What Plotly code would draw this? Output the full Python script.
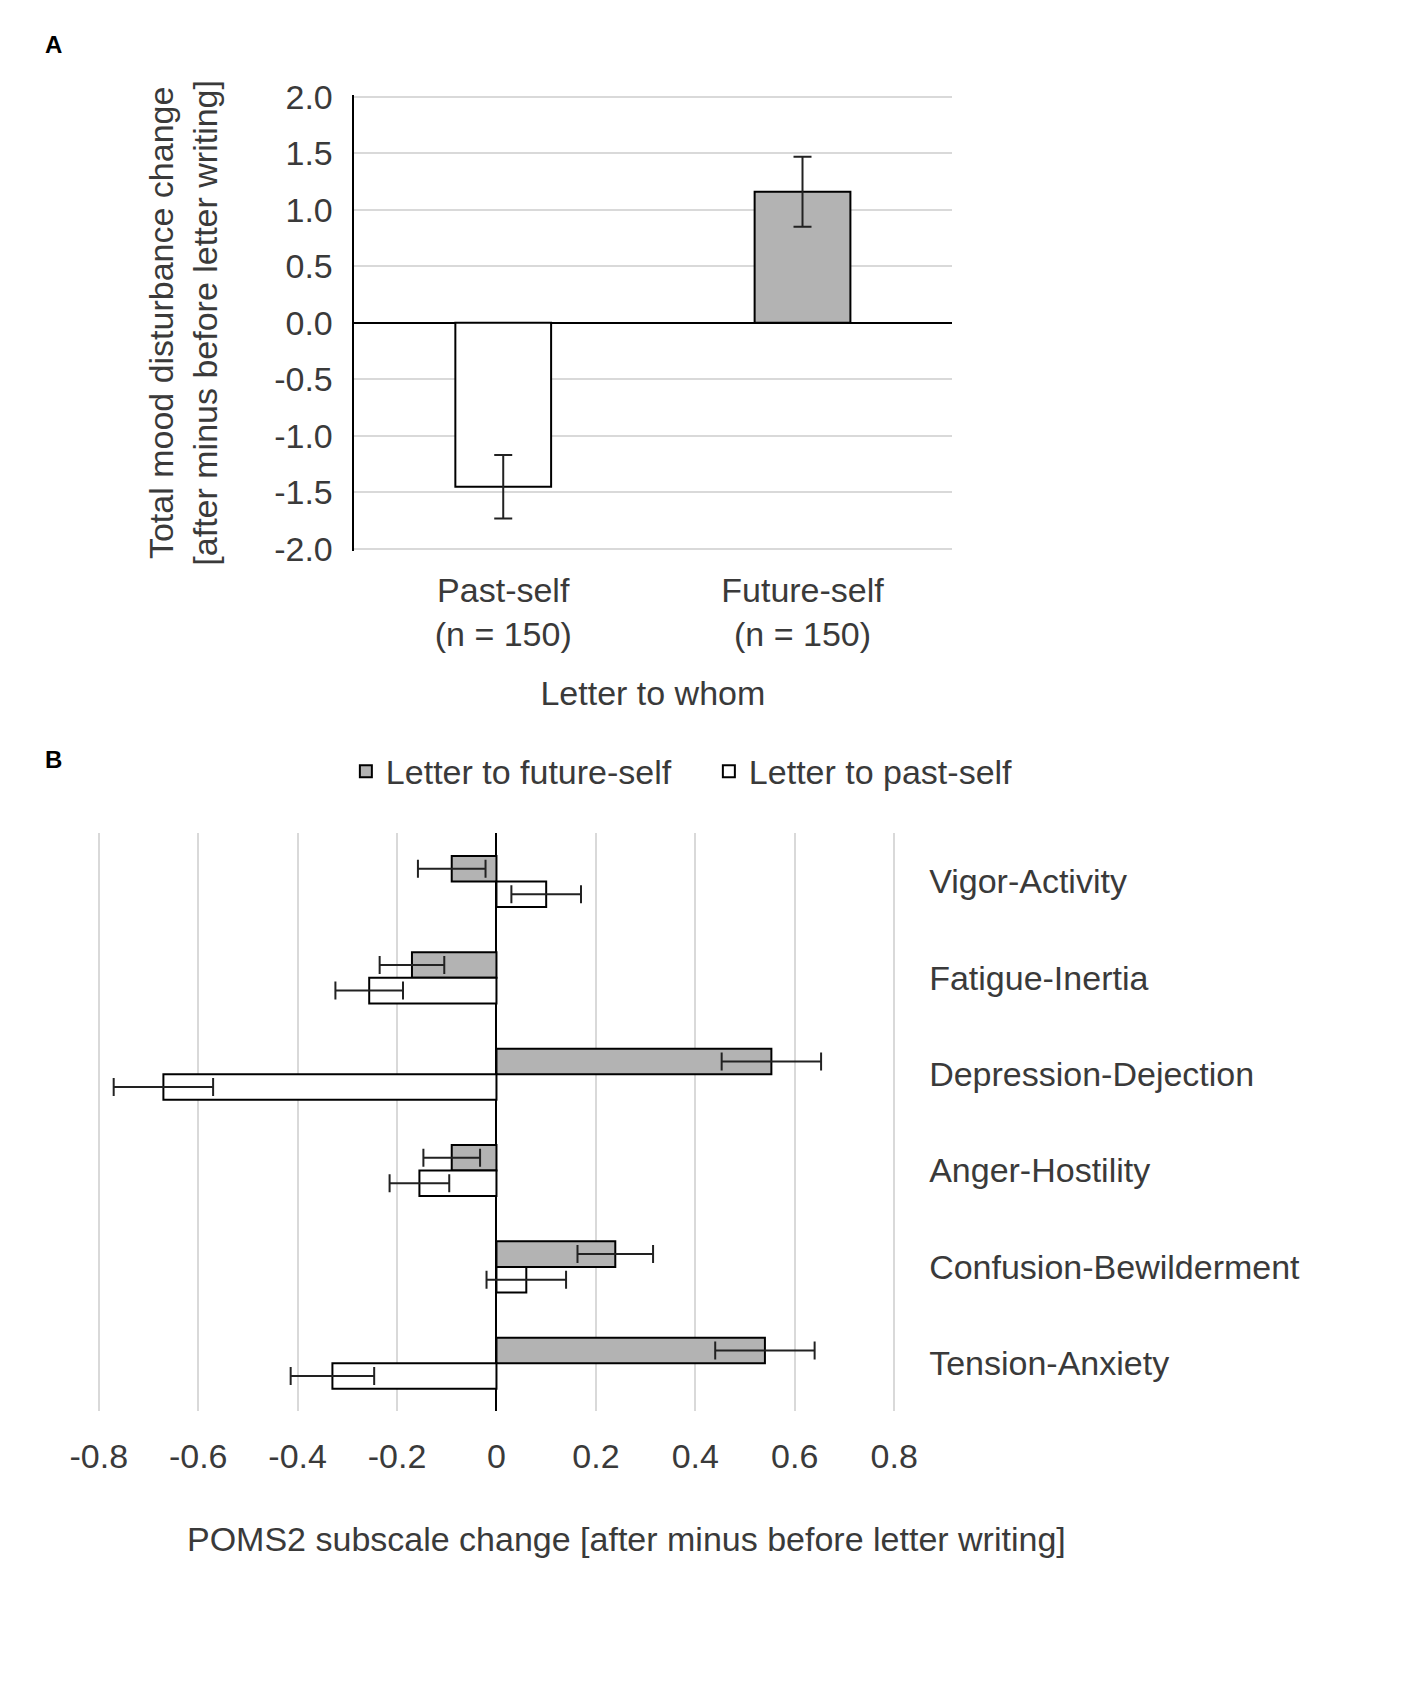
import plotly.graph_objects as go

# Panel A: total mood disturbance change
groups_a = ["Past-self<br>(n = 150)", "Future-self<br>(n = 150)"]
tmd_mean = [-1.45, 1.16]
tmd_se = [0.28, 0.31]
y_ticks_a = [-2.0, -1.5, -1.0, -0.5, 0.0, 0.5, 1.0, 1.5, 2.0]
y_ticktext_a = ["-2.0", "-1.5", "-1.0", "-0.5", "0.0", "0.5", "1.0", "1.5", "2.0"]

# Panel B: POMS2 subscales
subscales = ["Vigor-Activity", "Fatigue-Inertia", "Depression-Dejection",
             "Anger-Hostility", "Confusion-Bewilderment", "Tension-Anxiety"]
future_mean = [-0.09, -0.17, 0.553, -0.09, 0.239, 0.54]
future_se = [0.068, 0.065, 0.10, 0.057, 0.076, 0.10]
past_mean = [0.10, -0.256, -0.67, -0.155, 0.06, -0.33]
past_se = [0.07, 0.068, 0.10, 0.06, 0.08, 0.084]
x_ticks_b = [-0.8, -0.6, -0.4, -0.2, 0, 0.2, 0.4, 0.6, 0.8]
x_ticktext_b = ["-0.8", "-0.6", "-0.4", "-0.2", "0", "0.2", "0.4", "0.6", "0.8"]

W, H = 1417, 1683
FONT = "Liberation Sans, Arial, sans-serif"
TXT = "#3a3a3a"
GRAY = "#b3b3b3"
GRID = "#d9d9d9"
FS = 34


def px_x(p):
    return p / W


def px_y(p):
    return 1 - p / H


fig = go.Figure()

fig.add_trace(go.Bar(
    x=groups_a, y=tmd_mean, width=0.32,
    marker=dict(color=["white", GRAY], line=dict(color="black", width=2)),
    error_y=dict(type="data", array=tmd_se, color="#222", thickness=2, width=9),
    xaxis="x", yaxis="y", showlegend=False,
))

fig.add_trace(go.Bar(
    y=subscales, x=future_mean, orientation="h", name="Letter to future-self",
    marker=dict(color=GRAY, line=dict(color="black", width=2)),
    error_x=dict(type="data", array=future_se, color="#222", thickness=2, width=9),
    xaxis="x2", yaxis="y2",
))
fig.add_trace(go.Bar(
    y=subscales, x=past_mean, orientation="h", name="Letter to past-self",
    marker=dict(color="white", line=dict(color="black", width=2)),
    error_x=dict(type="data", array=past_se, color="#222", thickness=2, width=9),
    xaxis="x2", yaxis="y2",
))

fig.update_layout(
    width=W, height=H,
    margin=dict(l=0, r=0, t=0, b=0),
    paper_bgcolor="white", plot_bgcolor="white",
    font=dict(family=FONT, size=FS, color=TXT),
    barmode="group", bargap=0.47, bargroupgap=0,
    xaxis=dict(
        domain=[px_x(330), px_x(950)], anchor="y",
        showgrid=False, showline=False, ticks="", zeroline=False,
        ticklabelstandoff=16,
        title=dict(text="Letter to whom", standoff=28, font=dict(size=FS, color=TXT)),
    ),
    yaxis=dict(
        domain=[px_y(537), px_y(71)], anchor="x",
        range=[-2.02, 2.02], tickvals=y_ticks_a, ticktext=y_ticktext_a,
        showgrid=True, gridcolor=GRID, gridwidth=2,
        zeroline=True, zerolinecolor="black", zerolinewidth=2,
        showline=True, linecolor="black", linewidth=2, ticks="",
        ticklabelstandoff=12,
        title=dict(text="Total mood disturbance change<br>[after minus before letter writing]",
                   standoff=46, font=dict(size=FS, color=TXT)),
    ),
    xaxis2=dict(
        domain=[px_x(64), px_x(892)], anchor="y2",
        range=[-0.804, 0.804], tickvals=x_ticks_b, ticktext=x_ticktext_b,
        showgrid=True, gridcolor=GRID, gridwidth=2,
        zeroline=True, zerolinecolor="black", zerolinewidth=2,
        showline=False, ticks="", ticklabelstandoff=22,
    ),
    yaxis2=dict(
        domain=[px_y(1415), px_y(825)], anchor="x2", side="right",
        autorange="reversed", showgrid=False, showline=False, ticks="",
        zeroline=False, ticklabelstandoff=32,
    ),
    legend=dict(
        orientation="h", x=px_x(322), y=px_y(762), xanchor="left", yanchor="middle",
        font=dict(size=FS, color=TXT), itemwidth=30, bgcolor="rgba(0,0,0,0)",
        entrywidth=318, entrywidthmode="pixels",
    ),
    annotations=[
        dict(text="<b>A</b>", x=px_x(8), y=px_y(20), xref="paper", yref="paper",
             xanchor="left", yanchor="middle", showarrow=False,
             font=dict(size=24, color="black", family=FONT)),
        dict(text="<b>B</b>", x=px_x(8), y=px_y(750), xref="paper", yref="paper",
             xanchor="left", yanchor="middle", showarrow=False,
             font=dict(size=24, color="black", family=FONT)),
        dict(text="POMS2 subscale change [after minus before letter writing]",
             x=px_x(613), y=px_y(1545), xref="paper", yref="paper",
             xanchor="center", yanchor="middle", showarrow=False,
             font=dict(size=FS, color=TXT, family=FONT)),
    ],
)

fig.write_html("out.html")
